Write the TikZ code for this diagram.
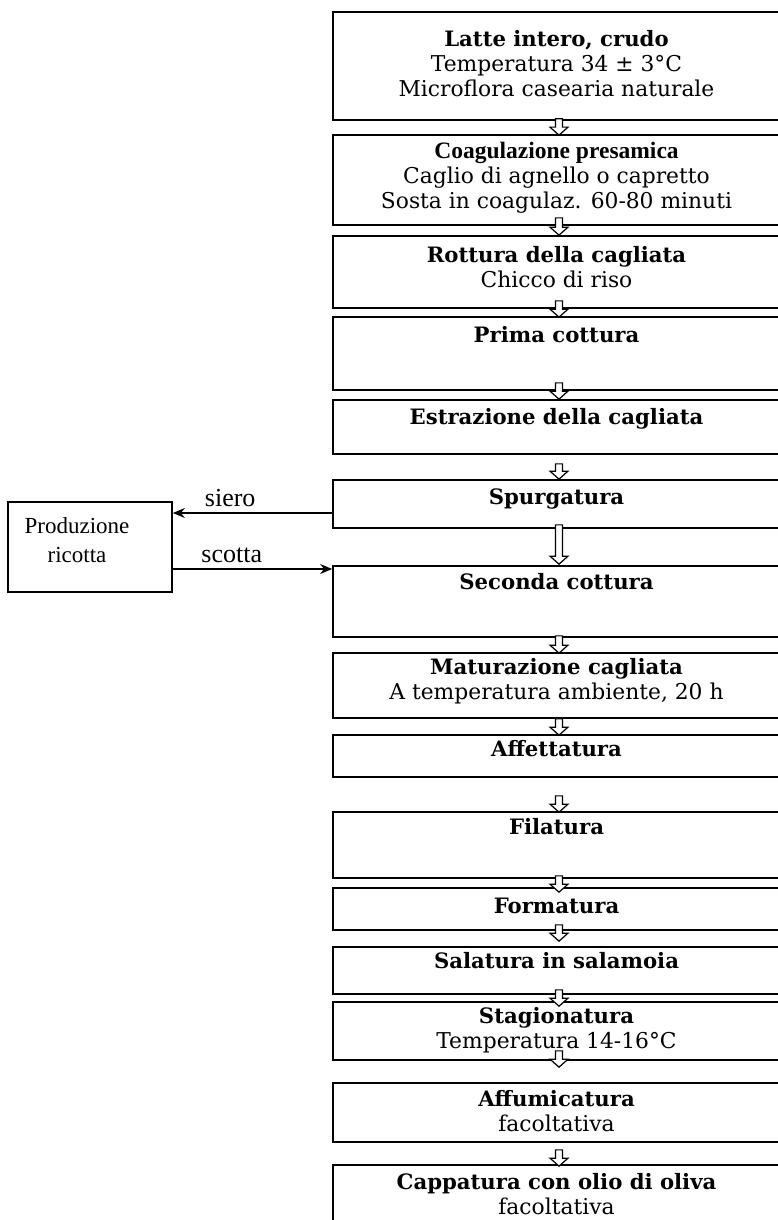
\documentclass[tikz,border=0pt]{standalone}
\usepackage{fontspec}
\setmainfont{DejaVu Serif}
\newfontfamily\timesfont{Liberation Serif}
\usetikzlibrary{positioning,calc,arrows.meta}

% hollow block arrow between two steps
\newcommand{\flowarrow}[2]{%
  \draw[hollow] let \p1=#1, \p2=#2 in
    (\x1-3.5pt,\y1) -- (\x1-3.5pt,\y2+8pt) -- (\x1-9pt,\y2+8pt) -- (\x1,\y2)
    -- (\x1+9pt,\y2+8pt) -- (\x1+3.5pt,\y2+8pt) -- (\x1+3.5pt,\y1) -- cycle;}
\newcommand{\steptitle}[1]{{\fontsize{21.2}{25}\selectfont\bfseries #1}}

\begin{document}
\begin{tikzpicture}[x=1pt,y=-1pt,
  stepbox/.style={draw, line width=1.7pt, minimum width=447pt, inner sep=0pt},
  steptext/.style={align=center, inner sep=0pt, font=\fontsize{21.8}{25}\selectfont},
  hollow/.style={draw, fill=white, line width=1.2pt, line join=miter},
  flow/.style={line width=1.3pt, -{Stealth[length=12pt,width=10pt]}},
  sidetext/.style={font=\timesfont\fontsize{26}{30}\selectfont, inner sep=6pt}]

\useasboundingbox (0,0) rectangle (778,1220);

% Draw the process boxes (name / centre / height)
\foreach \name/\yc/\h in {latte/66/108, coag/180/90, rottura/272/72, prima/353.5/73,
    estraz/427/54, spurg/504/48, seconda/601.5/71, matur/685.5/65, affett/756/42,
    filat/845/66, format/909/42, salat/970.5/47, stagion/1031/58, affum/1112.5/59,
    capp/1202.5/75}
  \node[stepbox, minimum height=\h pt] (\name) at (556.5,\yc) {};

% Texts of the boxes
\node[steptext, below=19pt of latte.north] (lattetxt)
  {\steptitle{Latte intero, crudo}\\Temperatura 34 ± 3°C\\Microflora casearia naturale};
\node[steptext, below=8pt of coag.north] (coagtxt)
  {{\timesfont\fontsize{23.5}{25}\selectfont\bfseries Coagulazione presamica}\\Caglio di agnello o capretto\\Sosta in coagulaz. 60-80 minuti};
\node[steptext, below=11pt of rottura.north] (rotturatxt)
  {\steptitle{Rottura della cagliata}\\Chicco di riso};
\node[steptext, below=10pt of prima.north] (primatxt) {\steptitle{Prima cottura}};
\node[steptext, below=9pt of estraz.north] (estraztxt) {\steptitle{Estrazione della cagliata}};
\node[steptext, below=9pt of spurg.north] (spurgtxt) {\steptitle{Spurgatura}};
\node[steptext, below=8pt of seconda.north] (secondatxt) {\steptitle{Seconda cottura}};
\node[steptext, below=6pt of matur.north] (maturtxt)
  {\steptitle{Maturazione cagliata}\\A temperatura ambiente, 20 h};
\node[steptext, below=6pt of affett.north] (affetttxt) {\steptitle{Affettatura}};
\node[steptext, below=7pt of filat.north] (filattxt) {\steptitle{Filatura}};
\node[steptext, below=11pt of format.north] (formattxt) {\steptitle{Formatura}};
\node[steptext, below=6pt of salat.north] (salattxt) {\steptitle{Salatura in salamoia}};
\node[steptext, below=6pt of stagion.north] (stagiontxt)
  {\steptitle{Stagionatura}\\Temperatura 14-16°C};
\node[steptext, below=8pt of affum.north] (affumtxt)
  {\steptitle{Affumicatura}\\facoltativa};
\node[steptext, below=9pt of capp.north] (capptxt)
  {\steptitle{Cappatura con olio di oliva}\\facoltativa};

% Ricotta box and its two flows
\node[draw, line width=1.7pt, minimum width=164pt, minimum height=90pt] (ricotta) at (90,547) {};
\node[align=center, inner sep=0pt, anchor=north, font=\timesfont\fontsize{23}{29}\selectfont]
  (ricottatxt) at (77,517) {Produzione\\ricotta};
\coordinate (sieroA) at ($(spurg.west)+(0,9)$);
\coordinate (scottaA) at ($(ricotta.east)+(0,22)$);
\draw[flow] (sieroA) -- (sieroA -| ricotta.east) node[sidetext, above, pos=0.64] {siero};
\draw[flow] (scottaA) -- (scottaA -| seconda.west) node[sidetext, above, pos=0.37] {scotta};

% Arrows between the steps
\flowarrow{($(latte.south)+(2.5,-2)$)}{($(coag.north)+(2.5,1)$)}
\flowarrow{($(coag.south)+(2.5,-8)$)}{($(rottura.north)+(2.5,0)$)}
\flowarrow{($(rottura.south)+(2.5,-8)$)}{($(prima.north)+(2.5,1)$)}
\flowarrow{($(prima.south)+(2.5,-8)$)}{($(estraz.north)+(2.5,0)$)}
\flowarrow{($(estraz.south)+(2.5,9)$)}{($(spurg.north)+(2.5,0)$)}
\flowarrow{($(spurg.south)+(2.5,-4)$)}{($(seconda.north)+(2.5,-1)$)}
\flowarrow{($(seconda.south)+(2.5,-2)$)}{($(matur.north)+(2.5,1)$)}
\flowarrow{($(matur.south)+(2.5,0)$)}{($(affett.north)+(2.5,1)$)}
\flowarrow{($(affett.south)+(2.5,18)$)}{($(filat.north)+(2.5,1)$)}
\flowarrow{($(filat.south)+(2.5,-3)$)}{($(format.north)+(2.5,5)$)}
\flowarrow{($(format.south)+(2.5,-6)$)}{($(salat.north)+(2.5,-5)$)}
\flowarrow{($(salat.south)+(2.5,-5)$)}{($(stagion.north)+(2.5,5)$)}
\flowarrow{($(stagion.south)+(2.5,-10)$)}{($(affum.north)+(2.5,-15)$)}
\flowarrow{($(affum.south)+(2.5,7)$)}{($(capp.north)+(2.5,2)$)}

\end{tikzpicture}
\end{document}
